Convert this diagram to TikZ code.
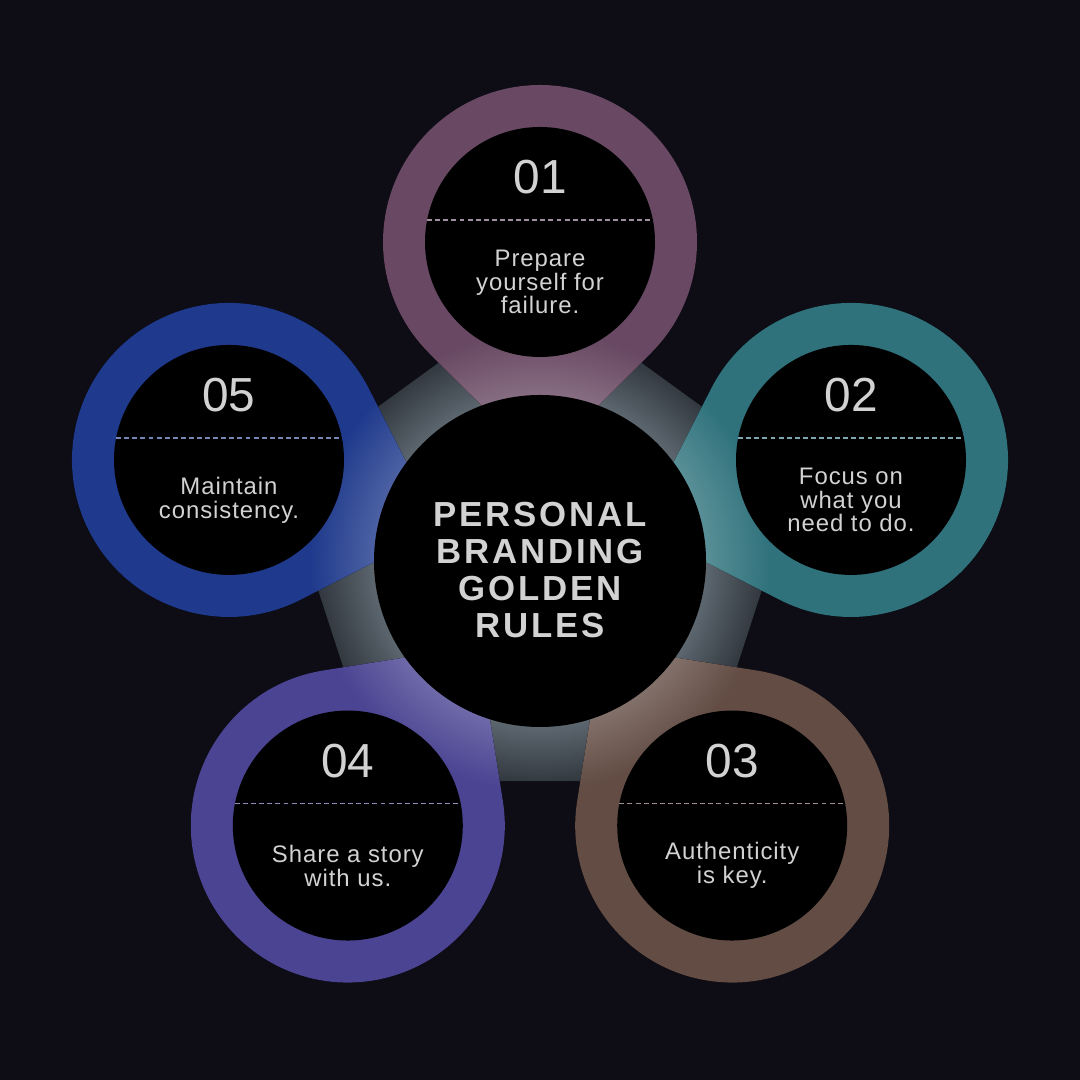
\documentclass[tikz,border=0pt]{standalone}
\usepackage{fontspec}
\setmainfont{Liberation Sans}
\newfontfamily\titlefont{Liberation Sans}[LetterSpace=8]
\newfontfamily\notefont{Liberation Sans}[LetterSpace=4]
\usetikzlibrary{calc}

\definecolor{bgdark}{HTML}{0E0D16}
\definecolor{pentdark}{HTML}{252A31}
\definecolor{pentglow}{HTML}{5C666E}
\definecolor{txtgrey}{HTML}{D2D2D2}
\definecolor{ruleone}{HTML}{684862}
\definecolor{ruletwo}{HTML}{2F727C}
\definecolor{rulethree}{HTML}{624C44}
\definecolor{rulefour}{HTML}{4A4492}
\definecolor{rulefive}{HTML}{1F3A8C}
\colorlet{tipcol}{white}

% glow round the hub, for a circle of radius 5 (25bp = 5cm)
\pgfdeclareradialshading{pentshade}{\pgfpoint{0bp}{0bp}}{color(0bp)=(pentglow); color(8.3bp)=(pentglow); color(12bp)=(pentdark); color(50bp)=(pentdark)}
\pgfdeclareradialshading[tipcol]{tipshade}{\pgfpoint{0bp}{0bp}}{color(0bp)=(tipcol!80!white); color(8.3bp)=(tipcol!80!white); color(11.5bp)=(tipcol); color(50bp)=(tipcol)}

\tikzset{
  titletext/.style={text=txtgrey, align=center, inner sep=0pt,
    font=\titlefont\bfseries\fontsize{9.9}{10.5}\selectfont},
  numtext/.style={text=txtgrey, inner sep=0pt, font=\fontsize{13.6}{14}\selectfont},
  notetext/.style={text=txtgrey, align=center, inner sep=0pt,
    font=\notefont\fontsize{6.8}{6.8}\selectfont},
  dashline/.style={line width=0.4pt, dash pattern=on 1.4pt off 0.9pt}
}

\begin{document}
\begin{tikzpicture}
\useasboundingbox (0,0) rectangle (10.8,10.8);
\fill[bgdark] (0,0) rectangle (10.8,10.8);
\coordinate (hub) at (5.40,5.19);

% pentagon behind the rules
\foreach \ang [count=\i] in {90,18,-54,-126,162}
  \coordinate (pent\i) at ($(hub)+(\ang:2.72)$);
\begin{scope}
\clip (pent1) -- (pent2) -- (pent3) -- (pent4) -- (pent5) -- cycle;
\fill[shading=pentshade] (hub) circle (5);
\end{scope}

% one drop for every rule
\foreach \ang/\dist/\col/\num/\txt in {
    90/3.19/ruleone/01/{Prepare\\yourself for\\failure.},
    18/3.27/ruletwo/02/{Focus on\\what you\\need to do.},
    -54/3.27/rulethree/03/{Authenticity\\is key.},
    -126/3.27/rulefour/04/{Share a story\\with us.},
    162/3.27/rulefive/05/{Maintain\\consistency.}}{
  \path (hub) ++(\ang:\dist) coordinate (sat\num);
  \colorlet{tipcol}{\col}
  \begin{scope}
  \clip ($(sat\num)+({\ang+225}:1.57)$) arc[start angle=\ang+225, delta angle=270, radius=1.57]
    -- ($(sat\num)+({\ang+180}:2.22)$) -- cycle;
  \fill[shading=tipshade] (hub) circle (5);
  \end{scope}
  \fill[black] (sat\num) circle (1.15);
  \node[numtext] (num\num) at ($(sat\num)+(0,0.645)$) {\num};
  \coordinate (dashl\num) at ($(sat\num)+(-1.128,0.22)$);
  \coordinate (dashr\num) at ($(sat\num)+(1.128,0.22)$);
  \draw[dashline, draw=\col!62!white] (dashl\num) -- (dashr\num);
  \node[notetext] (note\num) at ($(sat\num)+(0,-0.40)$) {\txt};
}

% centre
\fill[black] (hub) circle (1.66);
\node[titletext] (title) at (5.40,5.10) {PERSONAL\\BRANDING\\GOLDEN\\RULES};
\end{tikzpicture}
\end{document}
